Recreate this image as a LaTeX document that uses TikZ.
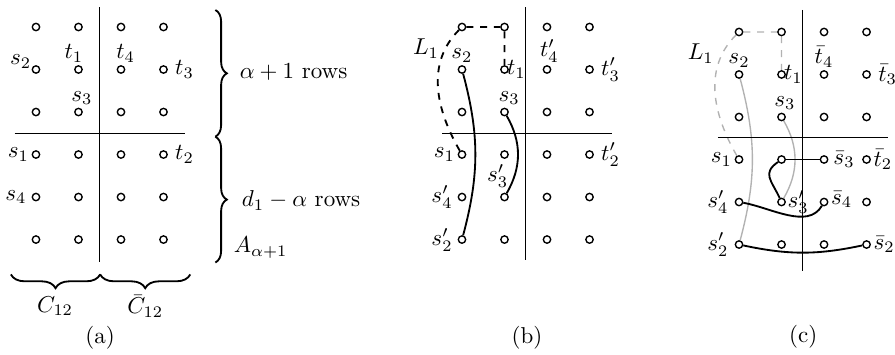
\documentclass[tikz,border=0pt]{standalone}
\usepackage{amsmath}
\usepackage{tikz}
\usetikzlibrary{positioning,decorations.pathreplacing,backgrounds}

\begin{document}
\begin{tikzpicture}[
          dot/.style={circle, draw, fill=white, inner sep=0pt, minimum size=3.2pt, line width=0.6pt},
          lbl/.style={inner sep=1pt},
          divider/.style={line width=0.4pt},
          route/.style={line width=0.8pt},
          lroute/.style={route, dashed},
          faded/.style={draw=black!30, line width=0.6pt},
          fadedl/.style={faded, dashed},
          brc/.style={decorate, decoration={brace, amplitude=5pt}, line width=0.8pt}
        ]
          \useasboundingbox (0,0) rectangle (13.685,-5.428);
          % (a) the grid with the two braces
          \begin{scope}[shift={(0.55,-0.413)}, x=0.65cm, y=-0.65cm]
            \foreach \i in {0,...,3}
              \foreach \j in {0,...,5}
                \node[dot] (a\i\j) at (\i,\j) {};
            \draw[divider] (1.5,-0.47) -- (1.5,5.52);
            \draw[divider] (-0.5,2.5) -- (3.5,2.5);
            \node[lbl, left=-1pt of a01, yshift=3.5pt] (as2) {$s_2$};
            \node[lbl, above=0pt of a11, xshift=-2pt] (at1) {$t_1$};
            \node[lbl, above=0pt of a21, xshift=2pt] (at4) {$t_4$};
            \node[lbl, right=2pt of a31] (at3) {$t_3$};
            \node[lbl, above=0pt of a12, xshift=1.5pt] (as3) {$s_3$};
            \node[lbl, left=0pt of a03] (as1) {$s_1$};
            \node[lbl, right=2pt of a33] (at2) {$t_2$};
            \node[lbl, left=1pt of a04] (as4) {$s_4$};
            \draw[brc, decoration={amplitude=6pt, mirror}] (-0.59,5.82) -- (1.51,5.82);
            \draw[brc, decoration={amplitude=6pt, mirror}] (1.51,5.82) -- (3.63,5.82);
            \node (c12) at (0.45,6.57) {$C_{12}$};
            \node (cb12) at (2.57,6.57) {$\bar{C}_{12}$};
            \draw[brc] (4.22,-0.4) -- (4.22,2.58);
            \draw[brc] (4.22,2.58) -- (4.22,5.54);
            \node[lbl, anchor=west] (rowsup) at (4.73,1.06) {$\alpha+1$ rows};
            \node[lbl, anchor=west] (rowsdn) at (4.78,4.08) {$d_1-\alpha$ rows};
            \node[lbl, anchor=west] (arow) at (4.59,5.19) {$A_{\alpha+1}$};
            \node (capa) at (1.51,7.31) {(a)};
          \end{scope}
          % (b) the paths before the swap
          \begin{scope}[shift={(7.064,-0.413)}, x=0.65cm, y=-0.65cm]
            \foreach \i in {0,...,3}
              \foreach \j in {0,...,5}
                \node[dot] (b\i\j) at (\i,\j) {};
            \draw[divider] (1.5,-0.47) -- (1.5,5.47);
            \draw[divider] (-0.47,2.5) -- (3.54,2.5);
            \node[lbl, above=0pt of b01] (bs2) {$s_2$};
            \node[lbl, left=3pt of bs2, yshift=3pt] (bL1) {$L_1$};
            \node[lbl, right=-2pt of b11] (bt1) {$t_1$};
            \node[lbl, above=0pt of b21, xshift=1pt] (bt4) {$t'_4$};
            \node[lbl, right=2pt of b31] (bt3) {$t'_3$};
            \node[lbl, above=0pt of b12, xshift=2pt] (bs3) {$s_3$};
            \node[lbl, left=0pt of b03] (bs1) {$s_1$};
            \node[lbl, right=2pt of b33] (bt2) {$t'_2$};
            \node[lbl, above=1pt of b14, xshift=-3pt] (bs3p) {$s'_3$};
            \node[lbl, left=1pt of b04] (bs4p) {$s'_4$};
            \node[lbl, left=1pt of b05] (bs2p) {$s'_2$};
            \begin{scope}[on background layer]
              \draw[lroute] (b03) to[out=120, in=225] (b00) -- (b10) -- (b11);
              \draw[route] (b01) to[bend left=15] (b05);
              \draw[route] (b12) to[bend left=30] (b14);
            \end{scope}
            \node (capb) at (1.53,7.3) {(b)};
          \end{scope}
          % (c) the paths after the swap
          \begin{scope}[shift={(11.30,-0.489)}, x=0.65cm, y=-0.65cm]
            \foreach \i in {0,...,3}
              \foreach \j in {0,...,5}
                \node[dot] (c\i\j) at (\i,\j) {};
            \draw[divider] (1.5,-0.52) -- (1.5,5.63);
            \draw[divider] (-0.5,2.49) -- (3.51,2.49);
            \node[lbl, above=0pt of c01] (cs2) {$s_2$};
            \node[lbl, left=4pt of cs2, yshift=3pt] (cL1) {$L_1$};
            \node[lbl, right=-2pt of c11] (ct1) {$t_1$};
            \node[lbl, above=0pt of c21] (ct4) {$\bar{t}_4$};
            \node[lbl, right=2pt of c31] (ct3) {$\bar{t}_3$};
            \node[lbl, above=0pt of c12, xshift=1.5pt] (cs3) {$s_3$};
            \node[lbl, left=0pt of c03] (cs1) {$s_1$};
            \node[lbl, right=1pt of c23] (cs3b) {$\bar{s}_3$};
            \node[lbl, right=0pt of c33] (ct2) {$\bar{t}_2$};
            \node[lbl, left=1.5pt of c04] (cs4p) {$s'_4$};
            \node[lbl, right=-0.5pt of c14] (cs3p) {$s'_3$};
            \node[lbl, right=0pt of c24, yshift=1pt] (cs4b) {$\bar{s}_4$};
            \node[lbl, left=1.5pt of c05] (cs2p) {$s'_2$};
            \node[lbl, right=0pt of c35] (cs2b) {$\bar{s}_2$};
            \begin{scope}[on background layer]
              \draw[fadedl] (c03) to[out=120, in=225] (c00) -- (c10) -- (c11);
              \draw[faded] (c01) to[bend left=15] (c05);
              \draw[faded] (c12) to[bend left=30] (c14);
              \draw[route] (c13) -- (c23);
              \draw[route] (c13) to[out=215, in=115, looseness=1.4] (c14);
              \draw[route] (c04) to[out=-10, in=-120, looseness=0.9] (c24);
              \draw[route] (c05) to[bend right=12] (c35);
            \end{scope}
            \node (capc) at (1.51,7.18) {(c)};
          \end{scope}
        \end{tikzpicture}
\end{document}
